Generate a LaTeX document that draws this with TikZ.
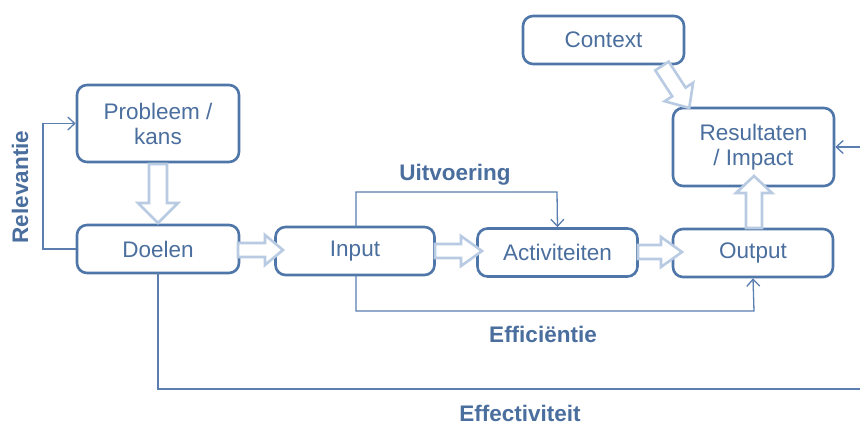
\documentclass[tikz,border=0pt]{standalone}
\usepackage{fontspec}
\setmainfont{Liberation Sans}
\usetikzlibrary{arrows.meta}
\definecolor{boxblue}{HTML}{4F76A8}
\definecolor{txtblue}{HTML}{4A6E9E}
\definecolor{lineblue}{HTML}{5A7EB0}
\definecolor{hollowc}{HTML}{B8CBE2}
\tikzset{
  box/.style={draw=boxblue, line width=2.6pt, rounded corners=10pt, fill=white,
    text=txtblue, font=\fontsize{22.5}{26}\selectfont, align=center, inner sep=0pt},
  conn/.style={draw=lineblue, line width=1.3pt},
  tip/.style={-{Straight Barb[length=7pt,width=13pt,line width=1.3pt]}},
  lab/.style={text=txtblue, font=\fontsize{22.5}{26}\selectfont\bfseries, inner sep=0pt},
  hollow/.style={draw=hollowc, line width=2.6pt, fill=white, line join=miter}
}
% horizontal hollow arrow: x0, xb, xt, y, h1, h2
\newcommand\hArr[6]{\draw[hollow] (#1,#4-#5)--(#2,#4-#5)--(#2,#4-#6)--(#3,#4)--(#2,#4+#6)--(#2,#4+#5)--(#1,#4+#5)--cycle;}
% vertical hollow arrow: y0, yb, yt, x, h1, h2
\newcommand\vArr[6]{\draw[hollow] (#4-#5,#1)--(#4-#5,#2)--(#4-#6,#2)--(#4,#3)--(#4+#6,#2)--(#4+#5,#2)--(#4+#5,#1)--cycle;}
\begin{document}
\begin{tikzpicture}[x=1pt,y=-1pt]
\useasboundingbox (0,0) rectangle (860,425);
\clip (0,0) rectangle (860,425);
\fill[white] (0,0) rectangle (860,425);

% boxes
\node[box, minimum width=162pt, minimum height=77pt] (prob) at (158,123.5) {Probleem /\\[-1pt]kans};
\node[box, minimum width=162pt, minimum height=48pt] (doel) at (158,249) {Doelen};
\node[box, minimum width=159pt, minimum height=48pt] (inp) at (355,251) {Input};
\node[box, minimum width=160pt, minimum height=48pt] (act) at (557.5,252.5) {Activiteiten};
\node[box, minimum width=160pt, minimum height=48pt] (out) at (753,253) {Output};
\node[box, minimum width=161pt, minimum height=78pt] (res) at (753.5,147) {Resultaten\\[-1pt]/ Impact};
\node[box, minimum width=161pt, minimum height=48pt] (ctx) at (603.5,40) {Context};

% hollow block arrows
\vArr{164}{203}{223}{158}{9}{20}
\hArr{238}{265}{283}{250}{7}{15}
\hArr{435}{461}{482}{251}{7}{15}
\hArr{638}{661}{682}{252}{7}{15}
\vArr{228}{193}{176}{754}{8}{18}
\begin{scope}[shift={(662,66)}, rotate=-57]
  \draw[hollow] (0,-8)--(31,-8)--(31,-17)--(50,0)--(31,17)--(31,8)--(0,8)--cycle;
\end{scope}

% thin connectors
\coordinate (relL) at (43,249);
\draw[conn, tip] (doel.west) -- (relL) |- (prob.west);
\node[lab, rotate=90] (rel) at (20,187) {Relevantie};

\draw[conn, tip] (356,227) |- (557,192) -- (act.north);
\node[lab] (uit) at (455,175) {Uitvoering};

\draw[conn, tip] (356,275) |- (754,311) -- (out.south);
\node[lab] (eff) at (543,334) {Efficiëntie};

\coordinate (rightE) at (870,389);
\coordinate (rightR) at (870,147);
\draw[conn] (158,273) |- (rightE);
\draw[conn, tip] (rightR) -- (res.east);
\node[lab] (effe) at (520,413) {Effectiviteit};
\end{tikzpicture}
\end{document}
